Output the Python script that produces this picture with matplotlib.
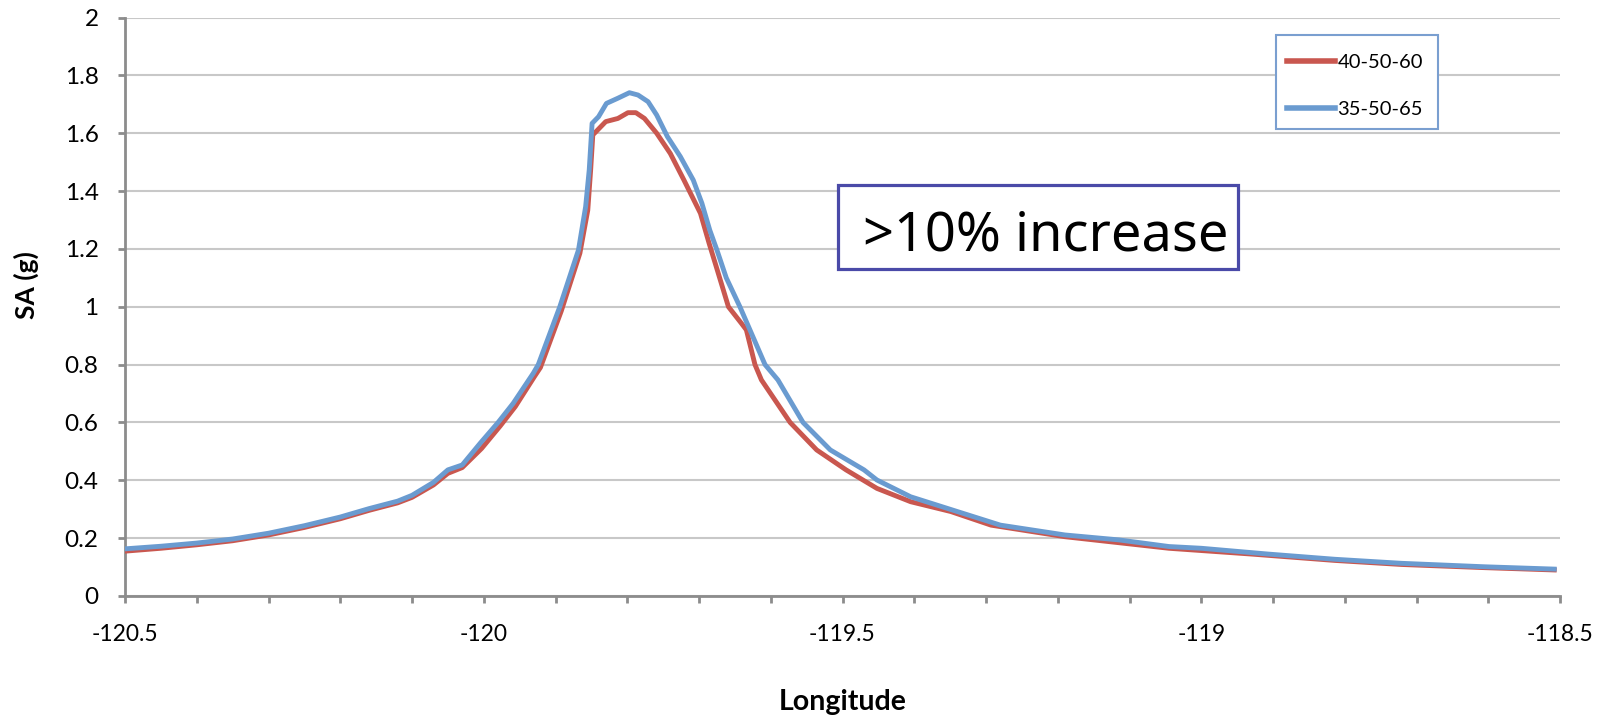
import numpy as np
import matplotlib.pyplot as plt
from matplotlib.patches import Rectangle
from matplotlib.ticker import MultipleLocator

# values
lon_3565 = [-120.50, -120.45, -120.40, -120.35, -120.30, -120.25, -120.20, -120.16,
            -120.12, -120.10, -120.07, -120.05, -120.03, -120.005, -119.980, -119.959,
            -119.931, -119.924, -119.894, -119.868, -119.858, -119.853, -119.849, -119.840,
            -119.829, -119.813, -119.797, -119.785, -119.771, -119.759, -119.744, -119.726,
            -119.708, -119.696, -119.685, -119.675, -119.662, -119.643, -119.608, -119.590,
            -119.555, -119.517, -119.470, -119.452, -119.405, -119.340, -119.280, -119.190,
            -119.115, -119.045, -119.000, -118.907, -118.814, -118.721, -118.605, -118.508]
sa_3565 = [0.163, 0.172, 0.183, 0.197, 0.217, 0.243, 0.273, 0.302,
           0.328, 0.348, 0.393, 0.436, 0.453, 0.528, 0.600, 0.666,
           0.770, 0.800, 1.000, 1.196, 1.346, 1.473, 1.634, 1.657,
           1.703, 1.721, 1.740, 1.732, 1.709, 1.663, 1.588, 1.519,
           1.438, 1.358, 1.265, 1.196, 1.100, 1.000, 0.800, 0.747,
           0.600, 0.505, 0.436, 0.401, 0.343, 0.292, 0.245, 0.211,
           0.194, 0.171, 0.165, 0.145, 0.127, 0.113, 0.101, 0.093]

lon_4060 = [-120.50, -120.45, -120.40, -120.35, -120.30, -120.25, -120.20, -120.16,
            -120.12, -120.10, -120.07, -120.05, -120.03, -120.003, -119.977, -119.956,
            -119.929, -119.921, -119.892, -119.866, -119.855, -119.851, -119.848, -119.830,
            -119.813, -119.799, -119.788, -119.776, -119.759, -119.740, -119.721, -119.698,
            -119.686, -119.676, -119.659, -119.641, -119.634, -119.622, -119.613, -119.573,
            -119.536, -119.495, -119.452, -119.405, -119.349, -119.293, -119.190, -119.045,
            -118.930, -118.814, -118.721, -118.605, -118.508]
sa_4060 = [0.155, 0.165, 0.177, 0.191, 0.211, 0.237, 0.267, 0.296,
           0.322, 0.341, 0.384, 0.424, 0.444, 0.510, 0.588, 0.655,
           0.760, 0.790, 0.985, 1.185, 1.334, 1.473, 1.594, 1.640,
           1.651, 1.671, 1.671, 1.651, 1.600, 1.530, 1.438, 1.323,
           1.220, 1.139, 1.000, 0.943, 0.920, 0.800, 0.747, 0.600,
           0.505, 0.436, 0.372, 0.326, 0.292, 0.245, 0.205, 0.165,
           0.145, 0.123, 0.109, 0.098, 0.090]

xtick_vals = [-120.5, -120, -119.5, -119, -118.5]
xtick_text = ['-120.5', '-120', '-119.5', '-119', '-118.5']
ytick_vals = [0, 0.2, 0.4, 0.6, 0.8, 1.0, 1.2, 1.4, 1.6, 1.8, 2.0]
ytick_text = ['0', '0.2', '0.4', '0.6', '0.8', '1', '1.2', '1.4', '1.6', '1.8', '2']

W, H = 1612, 718
fig = plt.figure(figsize=(W / 100, H / 100), dpi=100)
ax = fig.add_axes([125 / W, 1 - 596 / H, 1435 / W, 578.5 / H])

ax.plot(lon_4060, sa_4060, color='#c9574f', lw=3.5, label='40-50-60', zorder=3)
ax.plot(lon_3565, sa_3565, color='#6a9bd0', lw=3.5, label='35-50-65', zorder=4)

ax.set_xlim(-120.5, -118.5)
ax.set_ylim(0, 2)
ax.xaxis.set_minor_locator(MultipleLocator(0.1))
ax.set_xticks(xtick_vals, xtick_text)
ax.set_yticks(ytick_vals, ytick_text)

ax.grid(axis='y', color='#c8c8c8', lw=1.5, zorder=0)
ax.set_axisbelow(True)
for s in ['top', 'right']:
    ax.spines[s].set_visible(False)
for s in ['left', 'bottom']:
    ax.spines[s].set_color('#8c8c8c')
    ax.spines[s].set_linewidth(2)
ax.tick_params(axis='x', which='both', direction='out', length=5, width=2, color='#8c8c8c', pad=15.5,
               labelsize=16.5, labelfontfamily='Lato')
ax.tick_params(axis='y', direction='out', length=5, width=2, color='#8c8c8c', pad=14,
               labelsize=17.5, labelfontfamily='Lato')

fig.text(26 / W, 1 - 285 / H, 'SA (g)', family='Lato', fontweight='bold', fontsize=19,
         rotation=90, ha='center', va='center')
fig.text(843 / W, 1 - 702 / H, 'Longitude', family='Lato', fontweight='bold', fontsize=20.5,
         ha='center', va='center')

# legend without its own frame; the box is drawn separately underneath
box = Rectangle((1276 / W, 1 - 129 / H), 162 / W, 94 / H, transform=fig.transFigure,
                facecolor='white', edgecolor='#7a9fd0', lw=1.5, zorder=5, clip_on=False)
ax.add_artist(box)
leg = ax.legend(loc='center left', bbox_to_anchor=(1287 / W, 1 - 86 / H),
                bbox_transform=fig.transFigure, borderaxespad=0, borderpad=0, frameon=False,
                labelspacing=1.5, handlelength=2.4, handletextpad=0.1,
                prop={'family': 'Lato', 'size': 14.5})
leg.set_zorder(6)
for ln in leg.get_lines():
    ln.set_linewidth(4)

# annotation box
fig.patches.append(Rectangle((838 / W, 1 - 269 / H), 400 / W, 84 / H, transform=fig.transFigure,
                             facecolor='white', edgecolor='#4a4aa8', lw=2.3, zorder=5))
fig.text(863 / W, 1 - 250 / H, '>10% increase', family='Noto Sans', fontsize=39,
         ha='left', va='baseline', zorder=6)

fig.savefig('out.png', dpi=100)
